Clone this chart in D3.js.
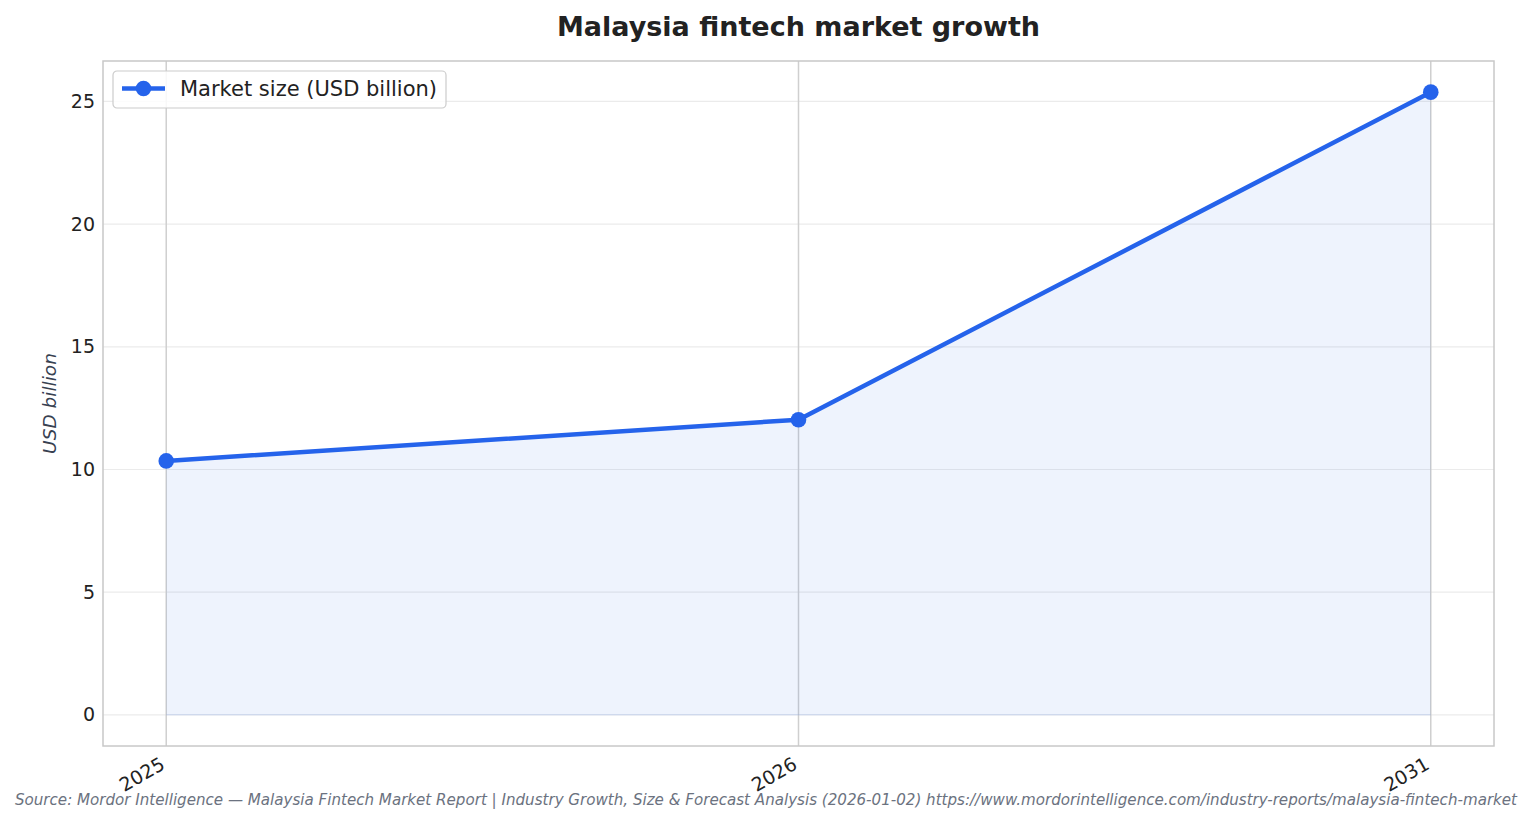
<!DOCTYPE html>
<html>
<head>
<meta charset="utf-8">
<script src="https://cdn.jsdelivr.net/npm/d3@7"></script>
<style>
	body { margin: 0; background: #fff; }
	text { font-family: "DejaVu Sans", sans-serif; }
</style>
</head>
<body>
<div id="chart"></div>
<script>
(function () {
	//Chart data
	const years = ['2025', '2026', '2031'];
	const marketSize = [10.35, 12.03, 25.38];
	const yTicks = [0, 5, 10, 15, 20, 25];

	const W = 1533, H = 824;
	let margin = { top: 61, right: 39, bottom: 78, left: 103 },
		width = W - margin.left - margin.right,
		height = H - margin.top - margin.bottom;

	const blue = '#2563eb';

	let svg = d3.select('#chart')
		.append('svg')
		.attr('width', W)
		.attr('height', H);

	//Title
	svg.append('text')
		.attr('x', margin.left + width / 2)
		.attr('y', 36)
		.attr('text-anchor', 'middle')
		.style('font-size', '27px')
		.style('font-weight', 'bold')
		.style('fill', '#222')
		.text('Malaysia fintech market growth');

	let g = svg.append('g')
		.attr('transform', `translate(${margin.left}, ${margin.top})`);

	//Scales with matplotlib-like 5% margins
	let xScale = d3.scaleLinear()
		.domain([-0.1, years.length - 1 + 0.1])
		.range([0, width]);

	let yMax = d3.max(marketSize);
	let yScale = d3.scaleLinear()
		.domain([-yMax * 0.05, yMax * 1.05])
		.range([height, 0]);

	//Horizontal grid
	g.append('g')
		.selectAll('line')
		.data(yTicks)
		.enter()
		.append('line')
		.attr('x1', 0)
		.attr('x2', width)
		.attr('y1', d => yScale(d))
		.attr('y2', d => yScale(d))
		.style('stroke', '#ebebeb')
		.style('stroke-width', 1.2);

	//Vertical grid
	g.append('g')
		.selectAll('line')
		.data(years)
		.enter()
		.append('line')
		.attr('x1', (d, i) => xScale(i))
		.attr('x2', (d, i) => xScale(i))
		.attr('y1', 0)
		.attr('y2', height)
		.style('stroke', '#cfcfcf')
		.style('stroke-width', 1.5);

	//Area fill
	let area = d3.area()
		.x((d, i) => xScale(i))
		.y0(yScale(0))
		.y1(d => yScale(d));

	g.append('path')
		.datum(marketSize)
		.attr('d', area)
		.style('fill', blue)
		.style('fill-opacity', 0.08)
		.style('stroke', 'none');

	g.append('line')
		.attr('x1', xScale(0))
		.attr('x2', xScale(years.length - 1))
		.attr('y1', yScale(0))
		.attr('y2', yScale(0))
		.style('stroke', blue)
		.style('stroke-opacity', 0.1)
		.style('stroke-width', 1.5);

	//Line and markers
	let line = d3.line()
		.x((d, i) => xScale(i))
		.y(d => yScale(d));

	g.append('path')
		.datum(marketSize)
		.attr('d', line)
		.style('fill', 'none')
		.style('stroke', blue)
		.style('stroke-width', 4.5)
		.style('stroke-linejoin', 'round');

	g.selectAll('circle.pt')
		.data(marketSize)
		.enter()
		.append('circle')
		.attr('class', 'pt')
		.attr('cx', (d, i) => xScale(i))
		.attr('cy', d => yScale(d))
		.attr('r', 7.8)
		.style('fill', blue);

	//Frame
	g.append('rect')
		.attr('width', width)
		.attr('height', height)
		.style('fill', 'none')
		.style('stroke', '#c8c8c8')
		.style('stroke-width', 1.5);

	//Y axis
	let yAxis = g.append('g')
		.call(d3.axisLeft(yScale).tickValues(yTicks).tickSize(0).tickPadding(8));
	yAxis.select('.domain').remove();
	yAxis.selectAll('text')
		.style('font-size', '19px')
		.style('fill', '#222')
		.style('font-family', '"DejaVu Sans", sans-serif');

	svg.append('text')
		.attr('transform', `translate(56, ${margin.top + height / 2}) rotate(-90)`)
		.attr('text-anchor', 'middle')
		.style('font-size', '18.5px')
		.style('font-style', 'italic')
		.style('fill', '#374151')
		.text('USD billion');

	//X axis labels, rotated
	g.append('g')
		.selectAll('text')
		.data(years)
		.enter()
		.append('text')
		.attr('transform', (d, i) => `translate(${xScale(i)}, ${height + 22}) rotate(-30)`)
		.attr('text-anchor', 'end')
		.style('font-size', '19px')
		.style('fill', '#222')
		.text(d => d);

	//Legend
	let legend = svg.append('g')
		.attr('transform', 'translate(113, 71)');
	legend.append('rect')
		.attr('width', 333)
		.attr('height', 37)
		.attr('rx', 4)
		.style('fill', 'rgba(255,255,255,0.85)')
		.style('stroke', '#cccccc')
		.style('stroke-width', 1.2);
	legend.append('line')
		.attr('x1', 9)
		.attr('x2', 52)
		.attr('y1', 17.5)
		.attr('y2', 17.5)
		.style('stroke', blue)
		.style('stroke-width', 4.5);
	legend.append('circle')
		.attr('cx', 30.5)
		.attr('cy', 17.5)
		.attr('r', 7.8)
		.style('fill', blue);
	legend.append('text')
		.attr('x', 67)
		.attr('y', 25)
		.style('font-size', '21px')
		.style('fill', '#222')
		.text('Market size (USD billion)');

	//Source note
	svg.append('text')
		.attr('x', 766)
		.attr('y', 805)
		.attr('text-anchor', 'middle')
		.style('font-size', '15.1px')
		.style('font-style', 'italic')
		.style('fill', '#6b7280')
		.text('Source: Mordor Intelligence — Malaysia Fintech Market Report | Industry Growth, Size & Forecast Analysis (2026-01-02) https://www.mordorintelligence.com/industry-reports/malaysia-fintech-market');
})();
</script>
</body>
</html>
